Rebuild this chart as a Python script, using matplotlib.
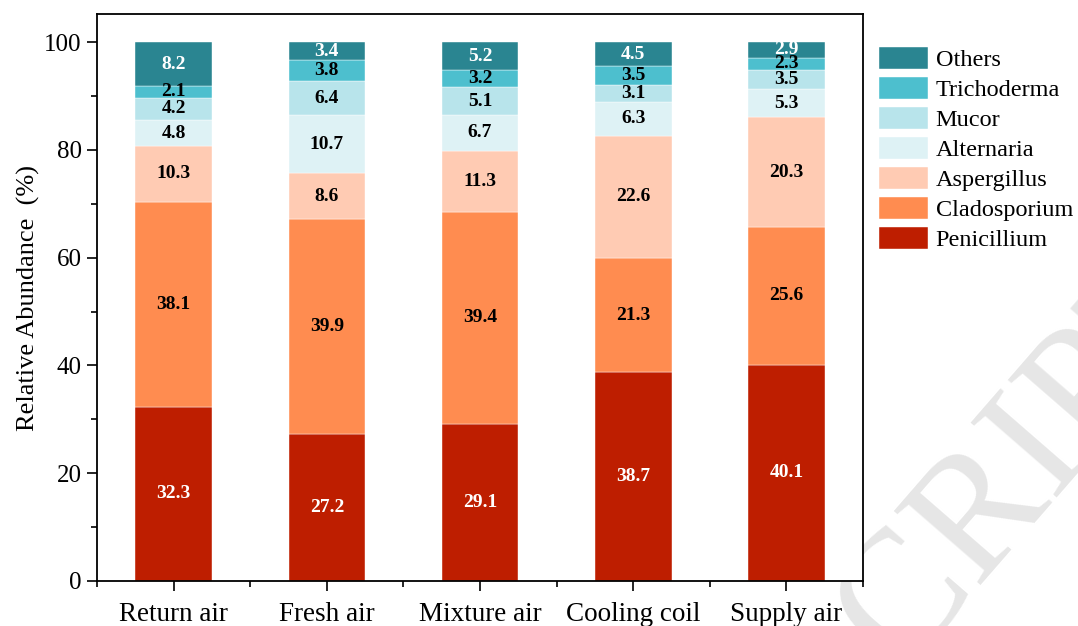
import numpy as np
import matplotlib
matplotlib.use("Agg")
import matplotlib.pyplot as plt

plt.rcParams['font.family'] = ['Liberation Serif', 'DejaVu Serif']

sites = ['Return air', 'Fresh air', 'Mixture air', 'Cooling coil', 'Supply air']
genera = ['Penicillium', 'Cladosporium', 'Aspergillus', 'Alternaria',
          'Mucor', 'Trichoderma', 'Others']

penicillium = [32.3, 27.2, 29.1, 38.7, 40.1]
cladosporium = [38.1, 39.9, 39.4, 21.3, 25.6]
aspergillus = [10.3, 8.6, 11.3, 22.6, 20.3]
alternaria = [4.8, 10.7, 6.7, 6.3, 5.3]
mucor = [4.2, 6.4, 5.1, 3.1, 3.5]
trichoderma = [2.1, 3.8, 3.2, 3.5, 2.3]
others = [8.2, 3.4, 5.2, 4.5, 2.9]

series = [penicillium, cladosporium, aspergillus, alternaria, mucor, trichoderma, others]
colors = ['#BE1E00', '#FF8C50', '#FFCBB3', '#DEF2F5', '#B8E4EB', '#4DBFCE', '#2A8591']
text_colors = ['white', 'black', 'black', 'black', 'black', 'black', 'white']

fig = plt.figure(figsize=(10.78, 6.26), dpi=100)
ax = fig.add_axes([0.09, 0.0719, 0.7106, 0.9057])

x = np.arange(len(sites))
bottom = np.zeros(len(sites))
handles = []
for vals, name, col, tc in zip(series, genera, colors, text_colors):
    vals = np.array(vals)
    bars = ax.bar(x, vals, width=0.5, bottom=bottom, color=col, label=name,
                  edgecolor='white', linewidth=0.3)
    handles.append(bars)
    for xi, b, v in zip(x, bottom, vals):
        ax.text(xi, b + v / 2, f'{v:.1f}', ha='center', va='center',
                fontsize=14, fontweight='bold', color=tc)
    bottom += vals

ax.set_xlim(-0.5, 4.5)
ax.set_ylim(0, 105.2)
ax.set_yticks([0, 20, 40, 60, 80, 100])
ax.set_yticks([10, 30, 50, 70, 90], minor=True)
ax.set_xticks(x)
ax.set_xticklabels(sites)
ax.set_xticks(np.arange(-0.5, 5, 1), minor=True)
ax.tick_params(axis='both', which='major', direction='out', length=7, width=1.2)
ax.tick_params(axis='y', which='major', labelsize=18, pad=4)
ax.tick_params(axis='x', which='major', labelsize=19.5, pad=8)
ax.tick_params(axis='both', which='minor', direction='out', length=4, width=1.2)
for s in ax.spines.values():
    s.set_linewidth(1.3)
ax.set_ylabel('Relative Abundance  (%)', fontsize=19, labelpad=3)

ax.legend(handles[::-1], genera[::-1], loc='upper left',
          bbox_to_anchor=(0.815, 0.925), bbox_transform=fig.transFigure,
          frameon=False, fontsize=17.5, handlelength=2.05, handleheight=1.0,
          labelspacing=0.24, handletextpad=0.3, borderaxespad=0, borderpad=0)

# faint watermark behind the axes
fig.text(0.955, 0.27, 'CRIPT', fontsize=125, color='#e6e6e6', rotation=49,
         ha='center', va='center', zorder=-1)

fig.savefig('out.png', dpi=100)
